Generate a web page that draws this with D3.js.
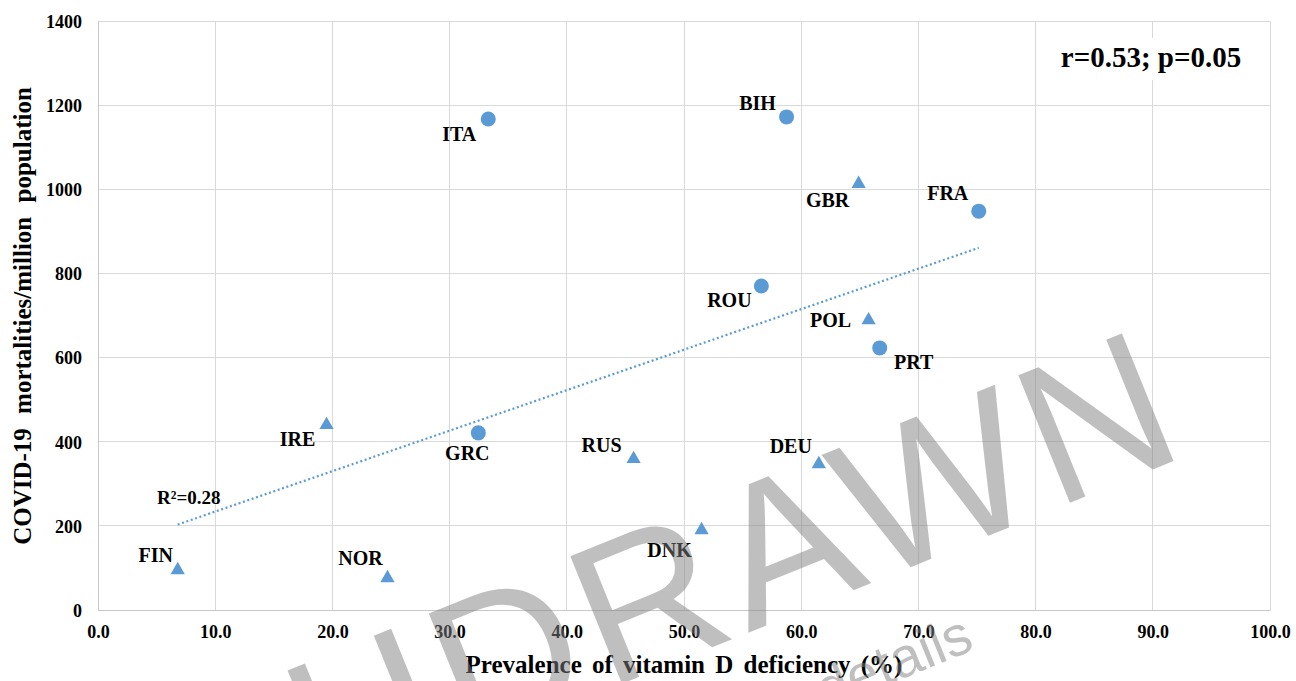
<!DOCTYPE html>
<html>
<head>
<meta charset="utf-8">
<script src="https://cdn.jsdelivr.net/npm/d3@7"></script>
<style>
  html, body { margin: 0; padding: 0; background: #fff; }
  svg { display: block; }
  text.t { font-family: "Liberation Serif", "Times New Roman", serif; font-weight: bold; fill: #000; }
</style>
</head>
<body>
<svg id="chart" width="1296" height="681"></svg>
<script>
// ---- data ----
const countries   = ["ITA", "BIH", "GBR", "FRA", "ROU", "POL", "PRT", "IRE", "GRC", "RUS", "DEU", "DNK", "FIN", "NOR"];
const vitDDefic   = [33.3, 58.75, 64.9, 75.15, 56.6, 65.75, 66.7, 19.5, 32.45, 45.7, 61.5, 51.5, 6.8, 24.7];
const mortality   = [1167, 1172, 1013, 948, 770, 689, 623, 440, 421, 359, 347, 190, 95, 76];
const markerShape = ["circle", "circle", "triangle", "circle", "circle", "triangle", "circle", "triangle", "circle", "triangle", "triangle", "triangle", "triangle", "triangle"];
const xTicks = [0, 10, 20, 30, 40, 50, 60, 70, 80, 90, 100];
const yTicks = [0, 200, 400, 600, 800, 1000, 1200, 1400];
const statText = "r=0.53; p=0.05";
const r2Text = "R\u00B2=0.28";
const xTitle = "Prevalence of vitamin D deficiency (%)";
const yTitle = "COVID-19 mortalities/million population";

// ---- layout (label offsets relative to marker, in px) ----
const labelOffset = {
  ITA: [-29, 15], BIH: [-29, -14], GBR: [-31, 16], FRA: [-31, -18], ROU: [-32, 14],
  POL: [-38, 0], PRT: [34, 14], IRE: [-29, 14], GRC: [-11, 20], RUS: [-32, -14],
  DEU: [-28, -18], DNK: [-32, 20], FIN: [-22, -15], NOR: [-27, -20]
};

const svg = d3.select("#chart");
const L = 98, R = 1270, T = 21, B = 610;
const x = d3.scaleLinear().domain([0, 100]).range([L, R]);
const y = d3.scaleLinear().domain([0, 1400]).range([B, T]);
const blue = "#5B9BD5";
const grid = "#d9d9d9";

// gridlines
svg.append("g").selectAll("line").data(xTicks).join("line")
  .attr("x1", d => x(d)).attr("x2", d => x(d)).attr("y1", T).attr("y2", B)
  .attr("stroke", grid).attr("stroke-width", 1).attr("shape-rendering", "crispEdges");
svg.append("g").selectAll("line").data(yTicks).join("line")
  .attr("x1", L).attr("x2", R).attr("y1", d => y(d)).attr("y2", d => y(d))
  .attr("stroke", grid).attr("stroke-width", 1).attr("shape-rendering", "crispEdges");

// axes (tick labels only)
const xAxis = svg.append("g").attr("transform", `translate(0,${B})`)
  .call(d3.axisBottom(x).tickValues(xTicks).tickFormat(d3.format(".1f")).tickSize(0).tickPadding(0));
xAxis.select(".domain").attr("stroke", "#c8c8c8");
xAxis.selectAll("text").attr("class", "t").attr("y", 28).attr("dy", 0)
  .style("font-size", "18px");

const yAxis = svg.append("g").attr("transform", `translate(${L},0)`)
  .call(d3.axisLeft(y).tickValues(yTicks).tickFormat(d3.format("d")).tickSize(0).tickPadding(16));
yAxis.select(".domain").attr("stroke", "#c8c8c8");
yAxis.selectAll("text").attr("class", "t").attr("dy", "0.35em")
  .style("font-size", "18px");

// trendline (least squares)
const n = vitDDefic.length;
const mx = d3.mean(vitDDefic), my = d3.mean(mortality);
let sxy = 0, sxx = 0;
for (let i = 0; i < n; i++) { sxy += (vitDDefic[i] - mx) * (mortality[i] - my); sxx += (vitDDefic[i] - mx) ** 2; }
const slope = sxy / sxx, icpt = my - slope * mx;
const [xmin, xmax] = d3.extent(vitDDefic);
svg.append("line")
  .attr("x1", x(xmin)).attr("y1", y(icpt + slope * xmin))
  .attr("x2", x(xmax)).attr("y2", y(icpt + slope * xmax))
  .attr("stroke", blue).attr("stroke-width", 2.2).attr("stroke-dasharray", "2,2.6");

// markers
const pts = countries.map((c, i) => ({ c, x: vitDDefic[i], y: mortality[i], s: markerShape[i] }));
svg.append("g").selectAll("path").data(pts).join("path")
  .attr("transform", d => `translate(${x(d.x)},${y(d.y)})`)
  .attr("d", d => d.s === "circle" ? d3.symbol(d3.symbolCircle, 177)() : d3.symbol(d3.symbolTriangle, 88)())
  .attr("fill", blue);

// labels
svg.append("g").selectAll("text").data(pts).join("text").attr("class", "t")
  .attr("x", d => x(d.x) + labelOffset[d.c][0])
  .attr("y", d => y(d.y) + labelOffset[d.c][1])
  .attr("dy", "0.35em")
  .attr("text-anchor", "middle")
  .style("font-size", "20px")
  .text(d => d.c);

// R2 label
svg.append("text").attr("class", "t").attr("x", 157).attr("y", 504).style("font-size", "19px").text(r2Text);

// stats box
svg.append("rect").attr("x", 1048).attr("y", 38).attr("width", 206).attr("height", 42).attr("fill", "#fff");
svg.append("text").attr("class", "t").attr("x", 1151).attr("y", 67).attr("text-anchor", "middle").style("font-size", "29px").text(statText);

// axis titles
svg.append("text").attr("class", "t").attr("x", 684).attr("y", 673).attr("text-anchor", "middle")
  .style("font-size", "25px").style("word-spacing", "4px").text(xTitle);
svg.append("text").attr("class", "t").attr("transform", "translate(31,316) rotate(-90)").attr("text-anchor", "middle")
  .style("font-size", "25px").style("word-spacing", "8px").text(yTitle);

// watermark
const wm = svg.append("g").attr("pointer-events", "none");
wm.append("text").attr("transform", "translate(1196,452) rotate(-22)").attr("text-anchor", "end")
  .style("font-family", "Liberation Sans, Arial, sans-serif").style("font-weight", "normal")
  .style("letter-spacing", "8px")
  .style("font-size", "200px").style("fill", "#808080").style("fill-opacity", 0.5).text("WITHDRAWN");
wm.append("text").attr("transform", "translate(976,649) rotate(-22)").attr("text-anchor", "end")
  .style("font-family", "Liberation Sans, Arial, sans-serif").style("font-weight", "normal")
  .style("font-size", "56px").style("fill", "#808080").style("fill-opacity", 0.5).text("See retraction details");
</script>
</body>
</html>
